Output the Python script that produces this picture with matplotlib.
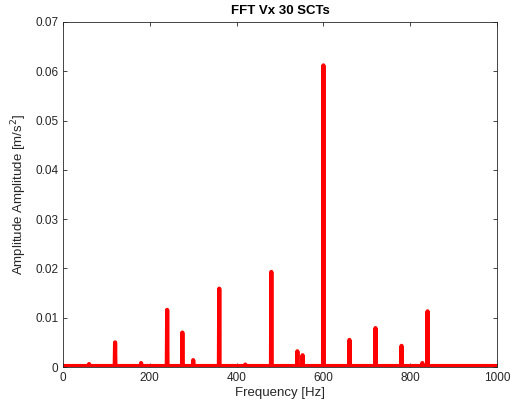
import matplotlib.pyplot as plt
import numpy as np

plt.rcParams['font.family'] = ['Liberation Sans', 'DejaVu Sans']

# peaks
peak_freq = [60, 120, 180, 240, 275, 300, 360, 420, 480, 540, 552, 600,
             660, 720, 780, 828, 840]
peak_amp = [0.0006, 0.0050, 0.0008, 0.0116, 0.0070, 0.0014, 0.0159, 0.0005,
            0.0193, 0.0032, 0.0024, 0.0612, 0.0055, 0.0079, 0.0043, 0.0008,
            0.0113]
noise_floor = 0.0002

# spectrum as spikes on top of the noise floor
freq = [0.0]
amp = [noise_floor]
for f, a in zip(peak_freq, peak_amp):
    freq += [f - 0.8, f, f + 0.8]
    amp += [noise_floor, a, noise_floor]
freq.append(1000.0)
amp.append(noise_floor)

fig = plt.figure(figsize=(5.11, 4.11), dpi=100)
ax = fig.add_axes([0.1233, 0.107, 0.8493, 0.8395])
ax.plot(freq, amp, color='red', lw=3.0, solid_joinstyle='round')
ax.set_xlim(0, 1000)
ax.set_ylim(0, 0.07)
ax.set_xticks(np.arange(0, 1001, 200))
ax.set_yticks(np.arange(0, 0.071, 0.01))
ax.set_yticklabels(['0', '0.01', '0.02', '0.03', '0.04', '0.05', '0.06', '0.07'])
ax.tick_params(direction='in', top=True, right=True, labelsize=8.5,
               length=3, width=0.6, colors='#262626')
for s in ax.spines.values():
    s.set_linewidth(0.6)
    s.set_color('#262626')
ax.set_xlabel('Frequency [Hz]', fontsize=9.5, color='#262626', labelpad=2)
ax.set_ylabel('Amplitude Amplitude [m/s$^2$]', fontsize=9.5, color='#262626')
ax.set_title('FFT Vx 30 SCTs', fontsize=9.5, fontweight='bold', pad=6)

plt.savefig('out.png', dpi=100)
